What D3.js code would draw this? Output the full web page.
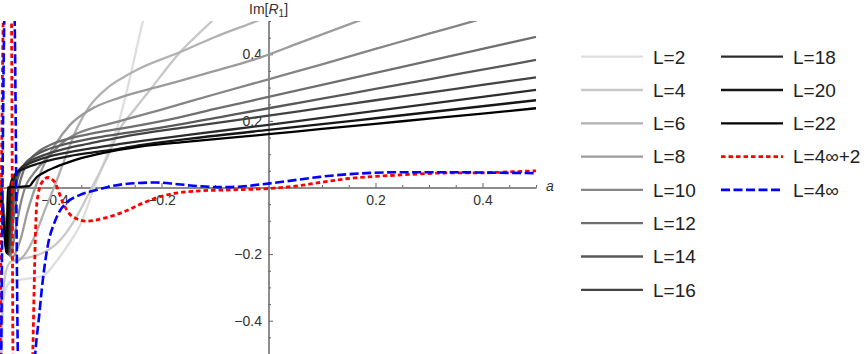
<!DOCTYPE html>
<html>
<head>
<meta charset="utf-8">
<script src="https://cdnjs.cloudflare.com/ajax/libs/d3/7.8.5/d3.min.js"></script>
<style>
  body { margin: 0; background: #fff; }
  svg { display: block; font-family: "Liberation Sans", Arial, sans-serif; }
</style>
</head>
<body>
<div id="chart"></div>
<script>
// series labels, in drawing order
const seriesNames = ['L=2', 'L=4', 'L=6', 'L=8', 'L=10', 'L=12', 'L=14', 'L=16', 'L=18', 'L=20', 'L=22', 'L=4\u221E+2', 'L=4\u221E'];

// [a, Im R1] (values beyond +-0.5 leave the frame)
const L2 = [[-0.499,-0.6],[-0.496,-0.344],[-0.491,-0.305],[-0.481,-0.281],[-0.455,-0.275],[-0.422,-0.266],[-0.399,-0.227],[-0.375,-0.173],[-0.352,-0.113],[-0.324,0.008],[-0.3,0.107],[-0.283,0.179],[-0.259,0.329],[-0.235,0.498],[-0.225,0.56]];
const L4 = [[-0.501,-0.6],[-0.497,-0.35],[-0.492,-0.262],[-0.484,-0.226],[-0.47,-0.214],[-0.455,-0.212],[-0.44,-0.207],[-0.42,-0.195],[-0.399,-0.173],[-0.38,-0.14],[-0.365,-0.105],[-0.33,0.0],[-0.3,0.095],[-0.278,0.175],[-0.25,0.235],[-0.222,0.292],[-0.166,0.405],[-0.107,0.498],[-0.09,0.525]];
const L6 = [[-0.502,-0.01],[-0.495,-0.1],[-0.487,-0.19],[-0.472,-0.222],[-0.455,-0.2],[-0.436,-0.143],[-0.418,-0.068],[-0.399,0.008],[-0.38,0.089],[-0.358,0.178],[-0.334,0.245],[-0.302,0.298],[-0.27,0.332],[-0.24,0.358],[-0.166,0.406],[-0.1,0.452],[-0.025,0.498],[0.01,0.52]];
const L8 = [[-0.502,0.0],[-0.494,-0.1],[-0.479,-0.208],[-0.464,-0.158],[-0.45,-0.07],[-0.436,0.0],[-0.422,0.06],[-0.399,0.128],[-0.371,0.188],[-0.334,0.233],[-0.278,0.27],[-0.2,0.305],[-0.1,0.35],[-0.016,0.39],[0.059,0.435],[0.164,0.498],[0.2,0.52]];
const L10 = [[-0.501,0.03],[-0.493,-0.1],[-0.483,-0.205],[-0.472,-0.12],[-0.462,-0.04],[-0.455,0.0],[-0.44,0.04],[-0.425,0.07],[-0.408,0.098],[-0.385,0.135],[-0.358,0.162],[-0.33,0.178],[-0.3,0.19],[-0.272,0.202],[-0.2,0.234],[-0.1,0.28],[0,0.325],[0.1,0.37],[0.2,0.416],[0.3,0.462],[0.38,0.498],[0.45,0.53]];
const L12 = [[-0.5,0.02],[-0.493,-0.1],[-0.485,-0.202],[-0.477,-0.1],[-0.467,0.0],[-0.458,0.05],[-0.445,0.085],[-0.43,0.108],[-0.405,0.13],[-0.375,0.146],[-0.34,0.159],[-0.3,0.171],[-0.26,0.181],[-0.2,0.199],[-0.1,0.236],[0,0.272],[0.1,0.308],[0.2,0.344],[0.3,0.38],[0.4,0.416],[0.5,0.452]];
const L14 = [[-0.5,0.01],[-0.494,-0.1],[-0.486,-0.2],[-0.48,-0.1],[-0.473,0.0],[-0.465,0.045],[-0.455,0.072],[-0.44,0.093],[-0.415,0.113],[-0.385,0.128],[-0.35,0.141],[-0.31,0.153],[-0.27,0.163],[-0.24,0.17],[-0.15,0.194],[0,0.238],[0.1,0.267],[0.2,0.296],[0.3,0.325],[0.4,0.354],[0.5,0.383]];
const L16 = [[-0.5,0.0],[-0.494,-0.11],[-0.487,-0.2],[-0.482,-0.1],[-0.477,0.0],[-0.47,0.04],[-0.46,0.063],[-0.445,0.08],[-0.42,0.097],[-0.39,0.112],[-0.36,0.124],[-0.32,0.137],[-0.28,0.15],[-0.24,0.161],[-0.15,0.182],[0,0.216],[0.1,0.239],[0.2,0.262],[0.3,0.285],[0.4,0.308],[0.5,0.331]];
const L18 = [[-0.5,-0.01],[-0.494,-0.12],[-0.488,-0.198],[-0.484,-0.1],[-0.48,0.0],[-0.474,0.035],[-0.465,0.055],[-0.45,0.07],[-0.43,0.083],[-0.4,0.097],[-0.37,0.107],[-0.33,0.118],[-0.28,0.13],[-0.24,0.139],[-0.15,0.158],[0,0.188],[0.1,0.209],[0.2,0.23],[0.3,0.251],[0.4,0.272],[0.5,0.293]];
const L20 = [[-0.5,-0.02],[-0.494,-0.12],[-0.489,-0.197],[-0.486,-0.1],[-0.483,0.0],[-0.478,0.03],[-0.47,0.045],[-0.455,0.058],[-0.43,0.072],[-0.4,0.085],[-0.37,0.095],[-0.33,0.105],[-0.28,0.116],[-0.24,0.127],[-0.15,0.146],[0,0.173],[0.1,0.19],[0.2,0.208],[0.3,0.226],[0.4,0.244],[0.5,0.262]];
const L22 = [[-0.5,-0.03],[-0.494,-0.13],[-0.49,-0.197],[-0.4885,-0.1],[-0.487,0.0],[-0.465,0.002],[-0.447,0.004],[-0.44,0.018],[-0.432,0.033],[-0.422,0.043],[-0.4,0.06],[-0.377,0.074],[-0.35,0.088],[-0.315,0.102],[-0.28,0.113],[-0.24,0.123],[-0.15,0.138],[0,0.16],[0.1,0.176],[0.2,0.191],[0.3,0.207],[0.4,0.222],[0.5,0.238]];
const L4inf2 = [[-0.502,-0.6],[-0.494,0.6],[-0.481,0.6],[-0.477,-0.6],[-0.443,-0.6],[-0.438,-0.3],[-0.436,-0.16],[-0.433,-0.047],[-0.424,0.014],[-0.412,0.03],[-0.399,0.014],[-0.384,-0.047],[-0.365,-0.089],[-0.339,-0.101],[-0.309,-0.093],[-0.272,-0.074],[-0.235,-0.047],[-0.197,-0.025],[-0.128,-0.01],[-0.066,-0.007],[0.0,-0.003],[0.05,0.004],[0.096,0.015],[0.15,0.027],[0.195,0.033],[0.25,0.038],[0.296,0.042],[0.35,0.044],[0.395,0.044],[0.45,0.047],[0.5,0.05]];
const L4inf = [[-0.5,-0.6],[-0.492,0.6],[-0.476,0.6],[-0.467,-0.6],[-0.44,-0.6],[-0.436,-0.5],[-0.429,-0.39],[-0.422,-0.28],[-0.412,-0.17],[-0.4,-0.105],[-0.39,-0.07],[-0.377,-0.045],[-0.352,-0.022],[-0.32,-0.007],[-0.29,0.005],[-0.25,0.013],[-0.21,0.015],[-0.17,0.01],[-0.13,0.004],[-0.09,0.001],[-0.05,0.003],[-0.016,0.009],[0.03,0.018],[0.096,0.032],[0.15,0.04],[0.195,0.044],[0.25,0.046],[0.296,0.046],[0.35,0.046],[0.395,0.045],[0.45,0.044],[0.5,0.043]];

const seriesData = [L2, L4, L6, L8, L10, L12, L14, L16, L18, L20, L22, L4inf2, L4inf];

// tick labels
const xTicks = [-0.4, -0.2, 0.2, 0.4];
const yTicks = [-0.4, -0.2, 0.2, 0.4];

const width = 867, height = 354;

const svg = d3.select('#chart')
    .append('svg')
    .attr('width', width)
    .attr('height', height);

const x = d3.scaleLinear().domain([-0.5, 0.5]).range([1, 536]);
const y = d3.scaleLinear().domain([-0.5, 0.5]).range([354, 21]);

// gray ramp for the finite L curves, then red dotted and blue dashed
function styleFor(i) {
    if (i === 11) return { color: '#ff0000', width: 2.8, dash: '4.5,3' };
    if (i === 12) return { color: '#0000ff', width: 2.6, dash: '9,3.5' };
    const g = Math.round(255 * 0.87 * (1 - i / 10));
    return { color: d3.rgb(g, g, g).formatHex(), width: 2.3, dash: null };
}

const series = seriesNames.map((name, i) => ({ name, data: seriesData[i], style: styleFor(i) }));

svg.append('clipPath')
    .attr('id', 'plot-clip')
    .append('rect')
    .attr('x', 0)
    .attr('y', y(0.5))
    .attr('width', x(0.5) + 1)
    .attr('height', y(-0.5) - y(0.5));

const axisColor = '#666';
const minorVals = d3.range(-10, 11).map(i => +(i * 0.05).toFixed(2));

// x axis: ticks point up into the plot, labels below
const gx = svg.append('g').attr('transform', `translate(0,${y(0)})`);
gx.append('g')
    .call(d3.axisBottom(x)
        .tickValues(minorVals.filter(v => v !== 0 && !xTicks.includes(v)))
        .tickSizeInner(-2.5).tickSizeOuter(0).tickFormat(''));
gx.append('g')
    .call(d3.axisBottom(x)
        .tickValues(xTicks)
        .tickSizeInner(-4.5).tickSizeOuter(0).tickPadding(8)
        .tickFormat(d3.format('.1f')));

// y axis: ticks point right, labels on the left
const gy = svg.append('g').attr('transform', `translate(${x(0)},0)`);
gy.append('g')
    .call(d3.axisLeft(y)
        .tickValues(minorVals.filter(v => v !== 0 && !yTicks.includes(v)))
        .tickSizeInner(-2.5).tickSizeOuter(0).tickFormat(''));
gy.append('g')
    .call(d3.axisLeft(y)
        .tickValues(yTicks)
        .tickSizeInner(-4.5).tickSizeOuter(0).tickPadding(6.5)
        .tickFormat(d3.format('.1f')));

svg.selectAll('.domain, .tick line').attr('stroke', axisColor).attr('stroke-width', 1);
svg.selectAll('.tick text')
    .attr('fill', '#333')
    .style('font-size', '14px')
    .style('font-family', '"Liberation Sans", Arial, sans-serif');

// axis labels
const yLab = svg.append('text')
    .attr('x', 249)
    .attr('y', 14)
    .attr('fill', '#333')
    .style('font-size', '14px');
yLab.append('tspan').text('Im[');
yLab.append('tspan').style('font-style', 'italic').text('R');
yLab.append('tspan').attr('dy', 3).style('font-size', '10px').text('1');
yLab.append('tspan').attr('dy', -3).text(']');

svg.append('text')
    .attr('x', 546)
    .attr('y', 191)
    .attr('fill', '#333')
    .style('font-size', '14px')
    .style('font-style', 'italic')
    .text('a');

// curves
const line = d3.line()
    .x(d => x(d[0]))
    .y(d => y(d[1]))
    .curve(d3.curveMonotoneX);

svg.append('g')
    .attr('clip-path', 'url(#plot-clip)')
    .selectAll('path')
    .data(series)
    .enter().append('path')
    .attr('d', d => line(d.data))
    .attr('fill', 'none')
    .attr('stroke', d => d.style.color)
    .attr('stroke-width', d => d.style.width)
    .attr('stroke-dasharray', d => d.style.dash)
    .attr('stroke-linejoin', 'round');

// legend: two columns, eight rows in the first
const legend = svg.append('g');
const rowH = 33.3;
const item = legend.selectAll('g')
    .data(series)
    .enter().append('g')
    .attr('transform', (d, i) => {
        const col = i < 8 ? 0 : 1;
        const row = i < 8 ? i : i - 8;
        return `translate(${581 + col * 140},${56.7 + row * rowH})`;
    });

item.append('line')
    .attr('x1', 0)
    .attr('x2', 62)
    .attr('stroke', d => d.style.color)
    .attr('stroke-width', d => d.style.width)
    .attr('stroke-dasharray', d => d.style.dash);

item.append('text')
    .attr('x', 72)
    .attr('dy', '0.36em')
    .attr('fill', '#222')
    .style('font-size', '19px')
    .text(d => d.name);
</script>
</body>
</html>
